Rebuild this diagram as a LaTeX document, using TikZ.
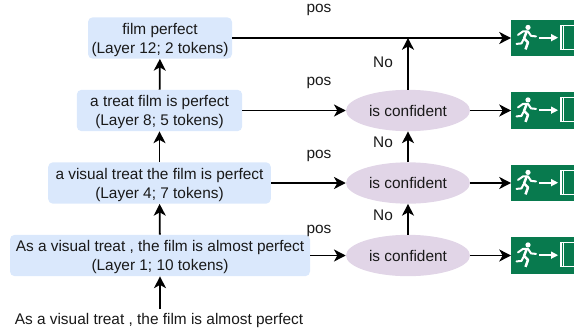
\documentclass[tikz,border=0pt]{standalone}
\usepackage{fontspec}
\setmainfont{Liberation Sans}
\usetikzlibrary{arrows.meta,shapes.geometric}
\definecolor{layerblue}{HTML}{DAE8FC}
\definecolor{confpurple}{HTML}{E1D5E7}
\definecolor{exitgreen}{HTML}{087A4E}
\tikzset{
	every node/.style={font=\fontsize{11.55}{14}\selectfont,text=black!90},
	layer/.style={fill=layerblue,rounded corners=3.5pt,align=center,inner sep=0pt,minimum height=31pt,text height=25.7pt,text depth=3pt},
	conf/.style={ellipse,fill=confpurple,inner sep=0pt,minimum width=93pt,minimum height=31pt},
	exitbox/.style={fill=exitgreen,inner sep=0pt,minimum width=47.25pt,minimum height=27.5pt},
	flow/.style={line width=1.35pt,-{Stealth[length=8.8pt,width=9pt,inset=2.5pt]}},
	exiticon/.pic={
		\fill[white] (17,8) circle (2.6);
		\draw[white,line width=1.5pt,line cap=round,line join=round] (7,15.5) -- (12,12) -- (17,12) -- (20,16.5) -- (25,17);
		\draw[white,line width=1.9pt,line join=round] (16,11.5) -- (13,19) -- (17,23) -- (14.5,30);
		\draw[white,line width=1.5pt,line cap=round,line join=round] (12.5,20) -- (10.5,24) -- (5.5,24.5);
		\draw[white,line width=1.3pt] (28,18.3) -- (41,18.3);
		\fill[white] (40,14.5) -- (47,18.3) -- (40,22) -- cycle;
		\draw[white,line width=0.8pt] (63,6) -- (50,6) -- (50,30) -- (63,30);
		\draw[white,line width=0.5pt] (52,6.5) -- (52,29.5);
	}
}
\begin{document}
\begin{tikzpicture}[x=0.75pt,y=-0.75pt]
	\useasboundingbox (0,0) rectangle (574,332);
	\node[layer,minimum width=108pt] (b1) at (160,38) {film perfect\\(Layer 12; 2 tokens)};
	\node[layer,minimum width=124pt] (b2) at (159.5,110.5) {a treat film is perfect\\(Layer 8; 5 tokens)};
	\node[layer,minimum width=167pt] (b3) at (159.5,183) {a visual treat the film is perfect\\(Layer 4; 7 tokens)};
	\node[layer,minimum width=225pt] (b4) at (160,255.5) {As a visual treat , the film is almost perfect\\(Layer 1; 10 tokens)};
	\node (t0) at (159,321) {As a visual treat , the film is almost perfect};
	\node[conf] (c2) at (408,110.5) {is confident};
	\node[conf] (c3) at (408,183) {is confident};
	\node[conf] (c4) at (408,255.5) {is confident};
	\node[exitbox,anchor=west] (e1) at (511,38) {};
	\node[exitbox,anchor=west] (e2) at (511,110.5) {};
	\node[exitbox,anchor=west] (e3) at (511,183) {};
	\node[exitbox,anchor=west] (e4) at (511,255.5) {};
	\pic at (e1.north west) {exiticon};
	\pic at (e2.north west) {exiticon};
	\pic at (e3.north west) {exiticon};
	\pic at (e4.north west) {exiticon};
	\coordinate (j1) at (408,38);
	\draw[flow] (t0.north -| b4) -- (b4);
	\draw[flow] (b4) -- (b3);
	\draw[flow] (b3) -- (b2);
	\draw[flow] (b2) -- (b1);
	\draw[flow] (b1) -- (e1);
	\draw[flow] (b2) -- (c2);
	\draw[flow] (b3) -- (c3);
	\draw[flow] (b4) -- (c4);
	\draw[flow] (c2) -- (e2);
	\draw[flow] (c3) -- (e3);
	\draw[flow] (c4) -- (e4);
	\draw[flow] (c4) -- (c3);
	\draw[flow] (c3) -- (c2);
	\draw[flow] (c2) -- (j1);
	\node (p1) at (319,10) {pos};
	\node (p2) at (319,83) {pos};
	\node (p3) at (319,156) {pos};
	\node (p4) at (319,231) {pos};
	\node (n1) at (383,62) {No};
	\node (n2) at (383,142) {No};
	\node (n3) at (383,215) {No};
\end{tikzpicture}
\end{document}
